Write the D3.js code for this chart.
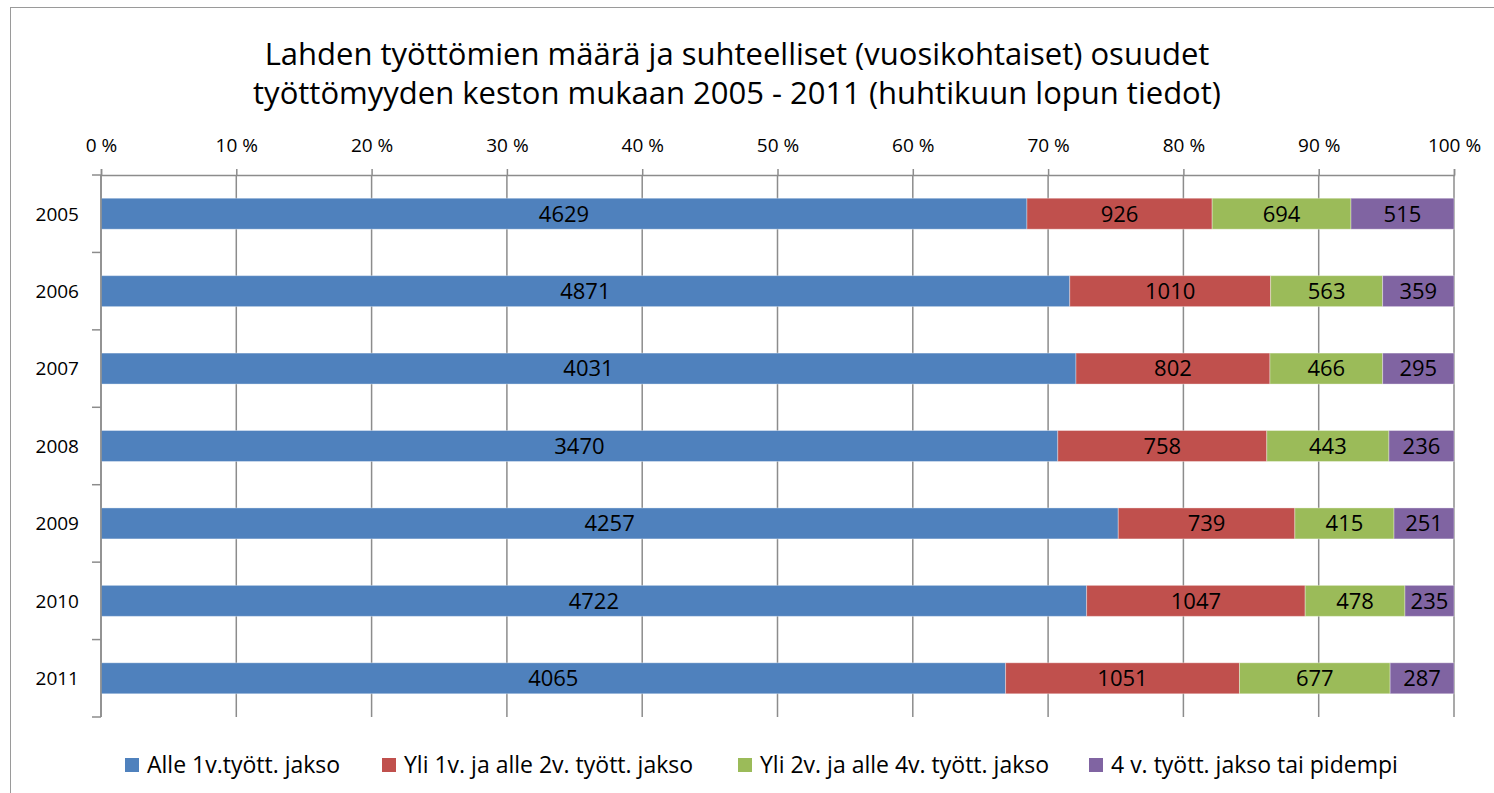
<!DOCTYPE html>
<html>
<head>
<meta charset="utf-8">
<title>Lahden työttömät</title>
<script src="https://cdnjs.cloudflare.com/ajax/libs/d3/7.8.5/d3.min.js"></script>
<style>
 body { margin: 0; background: #fff; }
 text { font-family: "Open Sans", "Noto Sans", sans-serif; fill: #000; }
 .title { font-size: 31px; }
 .cat { font-size: 19px; }
 .value { font-size: 22px; }
 .legend { font-size: 23px; }
</style>
</head>
<body>
<svg id="viz" width="1494" height="793"></svg>
<script>

// data
var years = ["2005", "2006", "2007", "2008", "2009", "2010", "2011"];
var seriesNames = ["Alle 1v.tyött. jakso", "Yli 1v. ja alle 2v. tyött. jakso",
                   "Yli 2v. ja alle 4v. tyött. jakso", "4 v. tyött. jakso tai pidempi"];
var alle1 = [4629, 4871, 4031, 3470, 4257, 4722, 4065];
var yli1 = [926, 1010, 802, 758, 739, 1047, 1051];
var yli2 = [694, 563, 466, 443, 415, 478, 677];
var yli4 = [515, 359, 295, 236, 251, 235, 287];
var colors = ["#4F81BD", "#C0504D", "#9BBB59", "#8064A2"];
var titleLines = ["Lahden työttömien määrä ja suhteelliset (vuosikohtaiset) osuudet",
                  "työttömyyden keston mukaan 2005 - 2011 (huhtikuun lopun tiedot)"];

run();

function run() {
    var svg = d3.select("#viz");
    var series = [alle1, yli1, yli2, yli4];

    // outer chart border
    svg.append("rect")
        .attr("x", 10.5).attr("y", 7.5)
        .attr("width", 1500).attr("height", 800)
        .attr("fill", "none").attr("stroke", "#9a9a9a");

    svg.selectAll(".title").data(titleLines).enter().append("text")
        .attr("class", "title")
        .attr("x", 737)
        .attr("y", function(d, i) { return 65 + i * 39; })
        .attr("text-anchor", "middle")
        .text(function(d) { return d; });

    var left = 101, right = 1454, top = 175, bottom = 717;

    var x = d3.scaleLinear().domain([0, 1]).range([left, right]);
    var y = d3.scaleBand().domain(years).range([top, bottom]).paddingInner(0.6).paddingOuter(0.3);

    // gridlines
    var ticks = d3.range(0, 1.0001, 0.1);
    svg.append("g").selectAll("line").data(ticks).enter().append("line")
        .attr("x1", function(d) { return x(d); })
        .attr("x2", function(d) { return x(d); })
        .attr("y1", top).attr("y2", bottom)
        .attr("stroke", "#8c8c8c").attr("stroke-width", 1.5);

    // rows of stacked segments
    var rows = years.map(function(yr, i) {
        var total = d3.sum(series, function(s) { return s[i]; });
        var acc = 0;
        return series.map(function(s, k) {
            var seg = { year: yr, k: k, value: s[i], x0: acc / total };
            acc += s[i];
            seg.x1 = acc / total;
            return seg;
        });
    });
    var segs = [].concat.apply([], rows);

    svg.append("g").selectAll("rect").data(segs).enter().append("rect")
        .attr("x", function(d) { return x(d.x0); })
        .attr("y", function(d) { return y(d.year); })
        .attr("width", function(d) { return x(d.x1) - x(d.x0); })
        .attr("height", y.bandwidth())
        .attr("fill", function(d) { return colors[d.k]; })
        .attr("stroke", "rgba(255,255,255,0.35)")
        .attr("stroke-width", 1);

    svg.append("g").selectAll("text").data(segs).enter().append("text")
        .attr("class", "value")
        .attr("x", function(d) { return (x(d.x0) + x(d.x1)) / 2; })
        .attr("y", function(d) { return y(d.year) + y.bandwidth() / 2; })
        .attr("dy", "0.36em")
        .attr("text-anchor", "middle")
        .text(function(d) { return d.value; });

    // top percentage axis
    var xAxis = d3.axisTop(x).tickValues(ticks).tickSize(6).tickPadding(17)
        .tickFormat(function(d) { return Math.round(d * 100) + " %"; });
    var gx = svg.append("g").attr("transform", "translate(0," + top + ")").call(xAxis);
    gx.attr("font-size", null).attr("font-family", null);
    gx.select(".domain").attr("stroke", "#8c8c8c").attr("stroke-width", 1.5);
    gx.selectAll(".tick line").attr("stroke", "#8c8c8c").attr("stroke-width", 1.5);
    gx.selectAll(".tick text").style("font-size", "19px").attr("fill", "#000");

    // left category axis
    var bounds = d3.range(years.length + 1).map(function(i) { return top + i * (bottom - top) / years.length; });
    svg.append("line")
        .attr("x1", left).attr("x2", left).attr("y1", top).attr("y2", bottom)
        .attr("stroke", "#8c8c8c").attr("stroke-width", 1.5);
    svg.append("g").selectAll("line").data(bounds).enter().append("line")
        .attr("x1", left - 9).attr("x2", left)
        .attr("y1", function(d) { return d; }).attr("y2", function(d) { return d; })
        .attr("stroke", "#8c8c8c").attr("stroke-width", 1.5);
    svg.append("g").selectAll("text").data(years).enter().append("text")
        .attr("class", "cat")
        .attr("x", 79)
        .attr("y", function(d) { return y(d) + y.bandwidth() / 2; })
        .attr("dy", "0.36em")
        .attr("text-anchor", "end")
        .text(function(d) { return d; });

    // legend
    var legendX = [125, 382, 738, 1089];
    var lg = svg.append("g").selectAll("g").data(seriesNames).enter().append("g")
        .attr("transform", function(d, i) { return "translate(" + legendX[i] + ",758)"; });
    lg.append("rect").attr("width", 14).attr("height", 14)
        .attr("fill", function(d, i) { return colors[i]; });
    lg.append("text").attr("class", "legend")
        .attr("x", 22).attr("y", 7).attr("dy", "0.36em")
        .text(function(d) { return d; });
}
</script>
</body>
</html>
